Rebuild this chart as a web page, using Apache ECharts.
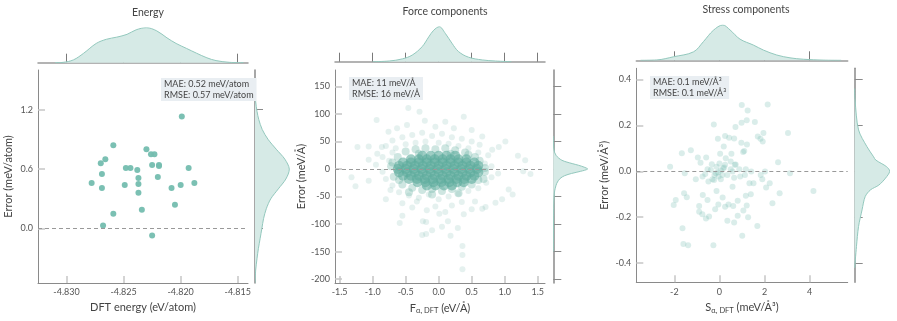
<!DOCTYPE html>
<html>
<head>
<meta charset="utf-8">
<script src="https://cdn.jsdelivr.net/npm/echarts@6/dist/echarts.min.js"></script>
<style>
html, body { margin: 0; padding: 0; background: #fff; }
#chart { width: 897px; height: 321px; }
</style>
</head>
<body>
<div id="chart"></div>
<script>
// ---- data ----
// Energy: DFT energy (eV/atom) vs error (meV/atom)
const energyPoints = [
  [-4.8199, 1.13], [-4.8259, 0.84], [-4.8230, 0.80], [-4.8226, 0.75], [-4.8223, 0.75],
  [-4.8270, 0.66], [-4.8266, 0.70], [-4.8225, 0.64], [-4.8219, 0.64], [-4.8219, 0.63],
  [-4.8248, 0.61], [-4.8244, 0.61], [-4.8238, 0.59], [-4.8193, 0.61], [-4.8269, 0.55],
  [-4.8237, 0.51], [-4.8220, 0.52], [-4.8278, 0.46], [-4.8269, 0.41], [-4.8249, 0.44],
  [-4.8237, 0.45], [-4.8188, 0.46], [-4.8208, 0.41], [-4.8200, 0.44], [-4.8237, 0.36],
  [-4.8205, 0.24], [-4.8234, 0.19], [-4.8259, 0.15], [-4.8268, 0.03], [-4.8225, -0.07]
];
const energyKdeX = [-4.8310, -4.8303, -4.8294, -4.8285, -4.8274, -4.8265, -4.8256, -4.8247, -4.8239, -4.8230,
  -4.8221, -4.8212, -4.8204, -4.8195, -4.8186, -4.8177, -4.8169, -4.8157, -4.8145];
const energyKdeD = [0, 0.01, 0.08, 0.27, 0.55, 0.67, 0.73, 0.81, 0.94, 1.0, 0.91, 0.71, 0.55, 0.41, 0.27, 0.14, 0.06, 0.01, 0];
const energyKdeErr = [1.40, 1.28, 1.18, 1.10, 1.00, 0.90, 0.80, 0.70, 0.60, 0.50, 0.40, 0.30, 0.20, 0.10, 0.00, -0.10, -0.20, -0.30, -0.42, -0.55];
const energyKdeW = [0, 0.02, 0.06, 0.11, 0.21, 0.38, 0.62, 0.87, 1.0, 0.9, 0.68, 0.46, 0.33, 0.25, 0.2, 0.15, 0.1, 0.06, 0.02, 0];

// Force components: F (eV/Å) vs error (meV/Å)
const forceCore = [
  [-0.25, 24], [-0.12, 24], [0, 24], [0.12, 24], [0.25, 24],
  [-0.42, 18], [-0.3, 18], [-0.18, 18], [-0.06, 18], [0.06, 18], [0.18, 18], [0.3, 18], [0.42, 18],
  [-0.54, 12], [-0.42, 12], [-0.3, 12], [-0.18, 12], [-0.06, 12], [0.06, 12], [0.18, 12], [0.3, 12], [0.42, 12], [0.54, 12],
  [-0.6, 6], [-0.48, 6], [-0.36, 6], [-0.24, 6], [-0.12, 6], [0, 6], [0.12, 6], [0.24, 6], [0.36, 6], [0.48, 6], [0.6, 6],
  [-0.62, 0], [-0.5, 0], [-0.38, 0], [-0.26, 0], [-0.14, 0], [-0.02, 0], [0.1, 0], [0.22, 0], [0.34, 0], [0.46, 0], [0.58, 0],
  [-0.6, -6], [-0.48, -6], [-0.36, -6], [-0.24, -6], [-0.12, -6], [0, -6], [0.12, -6], [0.24, -6], [0.36, -6], [0.48, -6], [0.6, -6],
  [-0.54, -12], [-0.42, -12], [-0.3, -12], [-0.18, -12], [-0.06, -12], [0.06, -12], [0.18, -12], [0.3, -12], [0.42, -12], [0.54, -12],
  [-0.45, -18], [-0.33, -18], [-0.21, -18], [-0.09, -18], [0.03, -18], [0.15, -18], [0.27, -18], [0.39, -18], [0.5, -18],
  [-0.32, -24], [-0.2, -24], [-0.08, -24], [0.04, -24], [0.16, -24], [0.28, -24], [0.38, -24],
  [-0.18, -30], [-0.05, -30], [0.08, -30], [0.2, -30]
];
const forceRing = [
  [-0.5, 32], [-0.35, 36], [-0.2, 38], [-0.05, 36], [0.1, 38], [0.25, 34], [0.4, 30], [0.55, 22], [-0.62, 22],
  [-0.72, 5], [0.7, -5], [0.68, -18], [-0.68, -14], [-0.55, -28], [-0.4, -34], [-0.25, -38], [-0.1, -36],
  [0.05, -40], [0.2, -36], [0.35, -32], [0.5, -28], [0.6, -20], [-0.3, 28], [0.18, 28], [-0.6, -20], [0.62, 15],
  [-0.7, 12], [0.7, 2], [-0.45, -42], [0.3, -44], [-0.1, -46], [0.45, 26]
];
const forceSpread = [
  [-0.46, 111], [-0.29, 104], [-0.94, 89], [0.38, 95], [-0.21, 88], [0.1, 86], [-0.05, 77], [0.23, 74], [0.5, 71],
  [-0.63, 74], [-0.48, 80], [-0.76, 68], [0.66, 59], [-1.23, 40], [-1.06, 41], [1.01, 50], [0.91, 40], [0.81, 35],
  [-0.93, 28], [-1.06, 17], [-0.86, 40], [1.31, 16], [1.39, -9], [-1.32, -15], [-1.26, -31], [-1.06, -21],
  [-0.8, -55], [-0.73, -38], [-0.33, -59], [-0.18, -75], [0.86, -61], [0.71, -69], [0.55, -59], [0.96, -55],
  [1.12, -46], [1.06, -37], [0.01, -81], [0.1, -78], [0.38, -82], [0.5, -73], [0.66, -72], [-0.59, -98],
  [-0.55, -85], [0.14, -95], [-0.24, -95], [-0.19, -96], [-0.25, -120], [-0.19, -118], [-0.1, -111], [0.05, -105],
  [0.18, -121], [0.29, -107], [0.36, -140], [0.36, -156], [0.36, -182],
  [-0.7, 52], [-0.55, 58], [-0.4, 62], [-0.25, 66], [-0.1, 60], [0.05, 64], [0.2, 58], [0.35, 55], [0.5, 50],
  [0.62, 44], [-0.8, 42], [-0.65, 38], [-0.5, 45], [-0.35, 48], [-0.2, 50], [0, 48], [0.15, 46], [0.3, 42],
  [0.45, 38], [0.6, 30], [0.75, 25], [-0.85, 22], [-0.75, 15], [-0.7, 30], [0.7, 10], [0.8, 5], [0.9, -8],
  [-0.85, -5], [-0.95, 8], [-0.8, -18], [-0.7, -30], [-0.6, -42], [-0.45, -48], [-0.3, -52], [-0.15, -46],
  [0, -55], [0.15, -50], [0.3, -45], [0.45, -40], [0.6, -35], [0.72, -25], [0.8, -15], [-0.55, -62], [-0.4, -70],
  [0.2, -66], [0.35, -60], [-0.05, -68], [1.2, 24], [1.28, -4]
];
const forceKdeX = [-1.0, -0.75, -0.55, -0.4, -0.25, -0.15, -0.075, 0.01, 0.1, 0.2, 0.3, 0.45, 0.66, 0.86, 1.1];
const forceKdeD = [0, 0.02, 0.08, 0.19, 0.43, 0.71, 0.9, 1.0, 0.81, 0.53, 0.29, 0.13, 0.05, 0.02, 0];
const forceKdeErr = [60, 35, 25, 16, 10, 7, 3, 0, -4, -8, -12, -17, -26, -44, -80, -150];
const forceKdeW = [0, 0.02, 0.08, 0.25, 0.55, 0.73, 0.92, 1.0, 0.8, 0.53, 0.33, 0.2, 0.1, 0.03, 0.01, 0];

// Stress components: S (meV/Å³) vs error (meV/Å³)
const stressPoints = [
  [0.99, 0.288], [2.14, 0.291], [1.25, 0.264], [0.98, 0.211], [1.21, 0.222], [1.57, 0.214], [0.71, 0.193],
  [-0.25, 0.203], [3.04, 0.167], [1.95, 0.167], [0.25, 0.153], [0.43, 0.146], [0.65, 0.143], [-0.07, 0.142],
  [1.70, 0.151], [1.82, 0.142], [1.92, 0.13], [0.97, 0.124], [1.22, 0.116], [0.19, 0.108], [1.10, 0.088],
  [1.05, 0.084], [-1.67, 0.078], [-1.27, 0.091], [0.03, 0.076], [0.53, 0.076], [-0.96, 0.06], [-0.59, 0.06],
  [-0.84, 0.037], [-0.34, 0.031], [0, 0.034], [0.28, 0.057], [0.72, 0.03], [-2.19, 0.02], [2.6, 0.039],
  [-1.54, -0.009], [3.13, -0.009], [2.02, -0.001], [1.41, -0.001], [1.17, 0.009], [0.88, 0.009], [-0.53, 0.009],
  [-0.16, -0.009], [0.16, 0.013], [0.5, 0.009], [0.35, -0.016], [-0.75, -0.023], [-1.05, -0.035], [-0.49, -0.045],
  [-0.31, -0.035], [0.06, -0.035], [0.65, -0.028], [0.92, -0.023], [1.13, -0.016], [1.83, -0.016], [1.9, -0.035],
  [1.33, -0.052], [1.51, -0.052], [2.23, -0.052], [2.07, -0.071], [4.17, -0.086], [0.58, -0.067], [-0.13, -0.086],
  [2.67, -0.096], [1.39, -0.1], [1.17, -0.106], [-1.57, -0.096], [-1.45, -0.113], [-0.74, -0.103], [0.14, -0.114],
  [-1.94, -0.125], [-2.03, -0.147], [-0.53, -0.125], [0.81, -0.128], [2.35, -0.139], [-0.9, -0.151], [-0.05, -0.144],
  [0.25, -0.154], [0.40, -0.144], [0.61, -0.151], [1.21, -0.149], [-0.9, -0.176], [-0.76, -0.187], [-0.19, -0.165],
  [1.06, -0.171], [0.81, -0.194], [1.27, -0.2], [-0.6, -0.205], [-0.46, -0.197], [0.35, -0.215], [0.65, -0.223],
  [1.68, -0.238], [-1.64, -0.248], [1.01, -0.28], [-1.6, -0.316], [-1.39, -0.322], [-0.27, -0.322],
  [-0.06, -0.004], [0.06, 0.003], [-0.22, -0.016], [0.21, 0.016], [0.58, -0.001], [0.68, 0.028], [0.5, 0.042],
  [0.25, 0.028], [-0.13, 0.02], [-0.38, 0.006], [-0.63, -0.012], [0.13, -0.016], [-0.04, -0.023], [-0.24, -0.038]
];
const stressKdeX = [-3.5, -2.78, -2.04, -1.15, -0.71, -0.27, 0.15, 0.47, 0.91, 1.51, 1.95, 2.54, 3.13, 3.72, 4.6, 5.4];
const stressKdeD = [0, 0.01, 0.1, 0.24, 0.53, 0.85, 1.0, 0.86, 0.6, 0.43, 0.29, 0.15, 0.07, 0.03, 0.005, 0];
const stressKdeErr = [0.36, 0.31, 0.18, 0.107, 0.063, 0.049, 0.02, 0, -0.03, -0.06, -0.081, -0.11, -0.168, -0.24, -0.328, -0.42];
const stressKdeW = [0, 0.01, 0.11, 0.35, 0.54, 0.6, 0.91, 1.0, 0.88, 0.69, 0.45, 0.3, 0.21, 0.11, 0.05, 0];

// tick labels
const energyXTicks = [-4.830, -4.825, -4.820, -4.815];
const energyYTicks = [0, 0.6, 1.2];
const forceXTicks = [-1.5, -1.0, -0.5, 0, 0.5, 1.0, 1.5];
const forceYTicks = [-200, -150, -100, -50, 0, 50, 100, 150];
const stressXTicks = [-2, 0, 2, 4];
const stressYTicks = [-0.4, -0.2, 0, 0.2, 0.4];

// ---- layout / style ----
const FONT = 'Lato, "Open Sans", sans-serif';
const TEXT = '#444';
const KDE_FILL = '#d6eae6';
const KDE_LINE = '#93c8bd';

const zip = (a, b) => a.map((v, i) => [v, b[i]]);

const panels = [
  {
    title: 'Energy', titleX: 148, titleY: 7,
    box: { left: 161, top: 78, text: 'MAE: 0.52 meV/atom\nRMSE: 0.57 meV/atom' },
    main: { left: 38, top: 70, width: 210, height: 213 },
    topGrid: { top: 27.7, height: 35 },
    side: { left: 255, width: 34.3 },
    xRange: [-4.8325, -4.8141], yRange: [-0.55, 1.6],
    xTicks: energyXTicks, yTicks: energyYTicks,
    xFmt: v => v.toFixed(3), yFmt: v => v.toFixed(1),
    xName: 'DFT energy (eV/atom)', yName: 'Error (meV/atom)', yNameGap: 24,
    scatter: [{ data: energyPoints, size: 6, color: '#74bdaf', opacity: 0.95 }],
    kdeTop: zip(energyKdeX, energyKdeD), kdeSide: zip(energyKdeW, energyKdeErr)
  },
  {
    title: 'Force components', titleX: 445, titleY: 6,
    box: { left: 349, top: 77, text: 'MAE: 11 meV/Å\nRMSE: 16 meV/Å' },
    main: { left: 335, top: 70, width: 210, height: 213 },
    topGrid: { top: 26.7, height: 35 },
    side: { left: 553.3, width: 34.3 },
    xRange: [-1.57, 1.61], yRange: [-207, 180],
    xTicks: forceXTicks, yTicks: forceYTicks,
    xFmt: v => v.toFixed(1), yFmt: v => String(v),
    xName: '{a|F}{s|α, DFT}{a| (eV/Å)}', yName: 'Error (meV/Å)', yNameGap: 28,
    scatter: [
      { data: forceSpread, size: 6, color: '#5eab9c', opacity: 0.16 },
      { data: forceRing, size: 8, color: '#5eab9c', opacity: 0.3 },
      { data: forceCore, size: 10, color: '#5eab9c', opacity: 0.6 }
    ],
    kdeTop: zip(forceKdeX, forceKdeD), kdeSide: zip(forceKdeW, forceKdeErr)
  },
  {
    title: 'Stress components', titleX: 746, titleY: 4,
    box: { left: 650, top: 76, text: 'MAE: 0.1 meV/Å³\nRMSE: 0.1 meV/Å³' },
    main: { left: 636.3, top: 68.3, width: 211.4, height: 214 },
    topGrid: { top: 25, height: 35.3 },
    side: { left: 854.7, width: 35 },
    xRange: [-3.69, 5.69], yRange: [-0.483, 0.448],
    xTicks: stressXTicks, yTicks: stressYTicks,
    xFmt: v => String(v), yFmt: v => v.toFixed(1),
    xName: '{a|S}{s|α, DFT}{a| (meV/Å³)}', yName: 'Error (meV/Å³)', yNameGap: 26,
    scatter: [{ data: stressPoints, size: 6, color: '#7bbfb2', opacity: 0.28 }],
    kdeTop: zip(stressKdeX, stressKdeD), kdeSide: zip(stressKdeW, stressKdeErr)
  }
];

const grid = [], xAxis = [], yAxis = [], series = [], title = [];

panels.forEach((p, i) => {
  const gMain = i * 3, gTop = i * 3 + 1, gSide = i * 3 + 2;
  const m = p.main;

  grid.push({ left: m.left, top: m.top, width: m.width, height: m.height });
  grid.push({ left: m.left, top: p.topGrid.top, width: m.width, height: p.topGrid.height });
  grid.push({ left: p.side.left, top: m.top, width: p.side.width, height: m.height });

  // main axes
  xAxis.push({
    gridIndex: gMain, type: 'value', min: p.xRange[0], max: p.xRange[1],
    axisLine: { show: true, onZero: false, lineStyle: { color: '#8a8a8a', width: 1 } },
    axisTick: { show: true, inside: true, length: 7, customValues: p.xTicks, lineStyle: { color: '#c6c6c6', width: 1.5 } },
    axisLabel: { customValues: p.xTicks, formatter: p.xFmt, fontSize: 9, color: '#555', fontFamily: FONT, margin: 5 },
    splitLine: { show: false },
    name: p.xName, nameLocation: 'middle', nameGap: 18,
    nameTextStyle: {
      fontSize: 11, color: TEXT, fontFamily: FONT,
      rich: {
        a: { fontSize: 11, color: TEXT, fontFamily: FONT, lineHeight: 14, verticalAlign: 'middle' },
        s: { fontSize: 7.5, color: TEXT, fontFamily: FONT, lineHeight: 8, verticalAlign: 'bottom' }
      }
    }
  });
  yAxis.push({
    gridIndex: gMain, type: 'value', min: p.yRange[0], max: p.yRange[1],
    axisLine: { show: true, onZero: false, lineStyle: { color: '#8a8a8a', width: 1 } },
    axisTick: { show: true, inside: true, length: 7, customValues: p.yTicks, lineStyle: { color: '#c6c6c6', width: 1.5 } },
    axisLabel: { customValues: p.yTicks, formatter: p.yFmt, fontSize: 9, color: '#555', fontFamily: FONT, margin: 5 },
    splitLine: { show: false },
    name: p.yName, nameLocation: 'middle', nameGap: p.yNameGap,
    nameTextStyle: { fontSize: 11, color: TEXT, fontFamily: FONT }
  });

  // top marginal axes
  xAxis.push({
    gridIndex: gTop, type: 'value', min: p.xRange[0], max: p.xRange[1],
    axisLine: { show: true, onZero: false, lineStyle: { color: '#9a9a9a', width: 1.5 } },
    axisTick: { show: true, inside: true, length: 9, customValues: p.xTicks, lineStyle: { color: '#7a7a7a', width: 1 } },
    axisLabel: { show: false }, splitLine: { show: false }
  });
  yAxis.push({ gridIndex: gTop, type: 'value', min: 0, max: 1, show: false });

  // side marginal axes
  xAxis.push({ gridIndex: gSide, type: 'value', min: 0, max: 1, show: false });
  yAxis.push({
    gridIndex: gSide, type: 'value', min: p.yRange[0], max: p.yRange[1],
    axisLine: { show: true, onZero: false, lineStyle: { color: '#8a8a8a', width: 1.5 } },
    axisTick: { show: true, inside: true, length: 8, customValues: p.yTicks, lineStyle: { color: '#8a8a8a', width: 1 } },
    axisLabel: { show: false }, splitLine: { show: false }
  });

  // scatter points
  p.scatter.forEach((s, k) => {
    const ser = {
      type: 'scatter', xAxisIndex: gMain, yAxisIndex: gMain, silent: true,
      data: s.data, symbolSize: s.size,
      itemStyle: { color: s.color, opacity: s.opacity }
    };
    if (k === p.scatter.length - 1) {
      ser.markLine = {
        silent: true, symbol: 'none', label: { show: false }, z: 10,
        lineStyle: { color: '#999', type: [4, 3], width: 1 },
        data: [{ yAxis: 0 }]
      };
    }
    series.push(ser);
  });

  // top density
  series.push({
    type: 'line', xAxisIndex: gTop, yAxisIndex: gTop, silent: true,
    data: p.kdeTop, smooth: 0.35, showSymbol: false, symbol: 'none',
    lineStyle: { color: KDE_LINE, width: 1 },
    areaStyle: { color: KDE_FILL, opacity: 1 }
  });

  // side density (drawn as polygon so it fills towards the vertical axis)
  const side = p.kdeSide;
  series.push({
    type: 'custom', xAxisIndex: gSide, yAxisIndex: gSide, silent: true, clip: true,
    data: side,
    renderItem: (params, api) => {
      if (params.dataIndex !== 0) return;
      const pts = side.map(d => api.coord(d));
      return {
        type: 'group',
        children: [
          { type: 'polygon', shape: { points: pts, smooth: 0.3 }, style: { fill: KDE_FILL } },
          { type: 'polyline', shape: { points: pts, smooth: 0.3 }, style: { stroke: KDE_LINE, lineWidth: 1, fill: null } }
        ]
      };
    }
  });

  // panel title and stats box
  title.push({
    text: p.title, left: p.titleX, top: p.titleY, textAlign: 'center', padding: 0,
    textStyle: { fontSize: 10.5, fontWeight: 'normal', color: TEXT, fontFamily: FONT }
  });
  title.push({
    text: p.box.text, left: p.box.left, top: p.box.top, padding: [1, 3, 1, 3],
    backgroundColor: '#e9eef2',
    textStyle: { fontSize: 9, fontWeight: 'normal', color: TEXT, fontFamily: FONT, lineHeight: 10.5 }
  });
});

const chart = echarts.init(document.getElementById('chart'));
chart.setOption({
  animation: false,
  backgroundColor: '#fff',
  title, grid, xAxis, yAxis, series
});
window.addEventListener('resize', () => chart.resize());
</script>
</body>
</html>
